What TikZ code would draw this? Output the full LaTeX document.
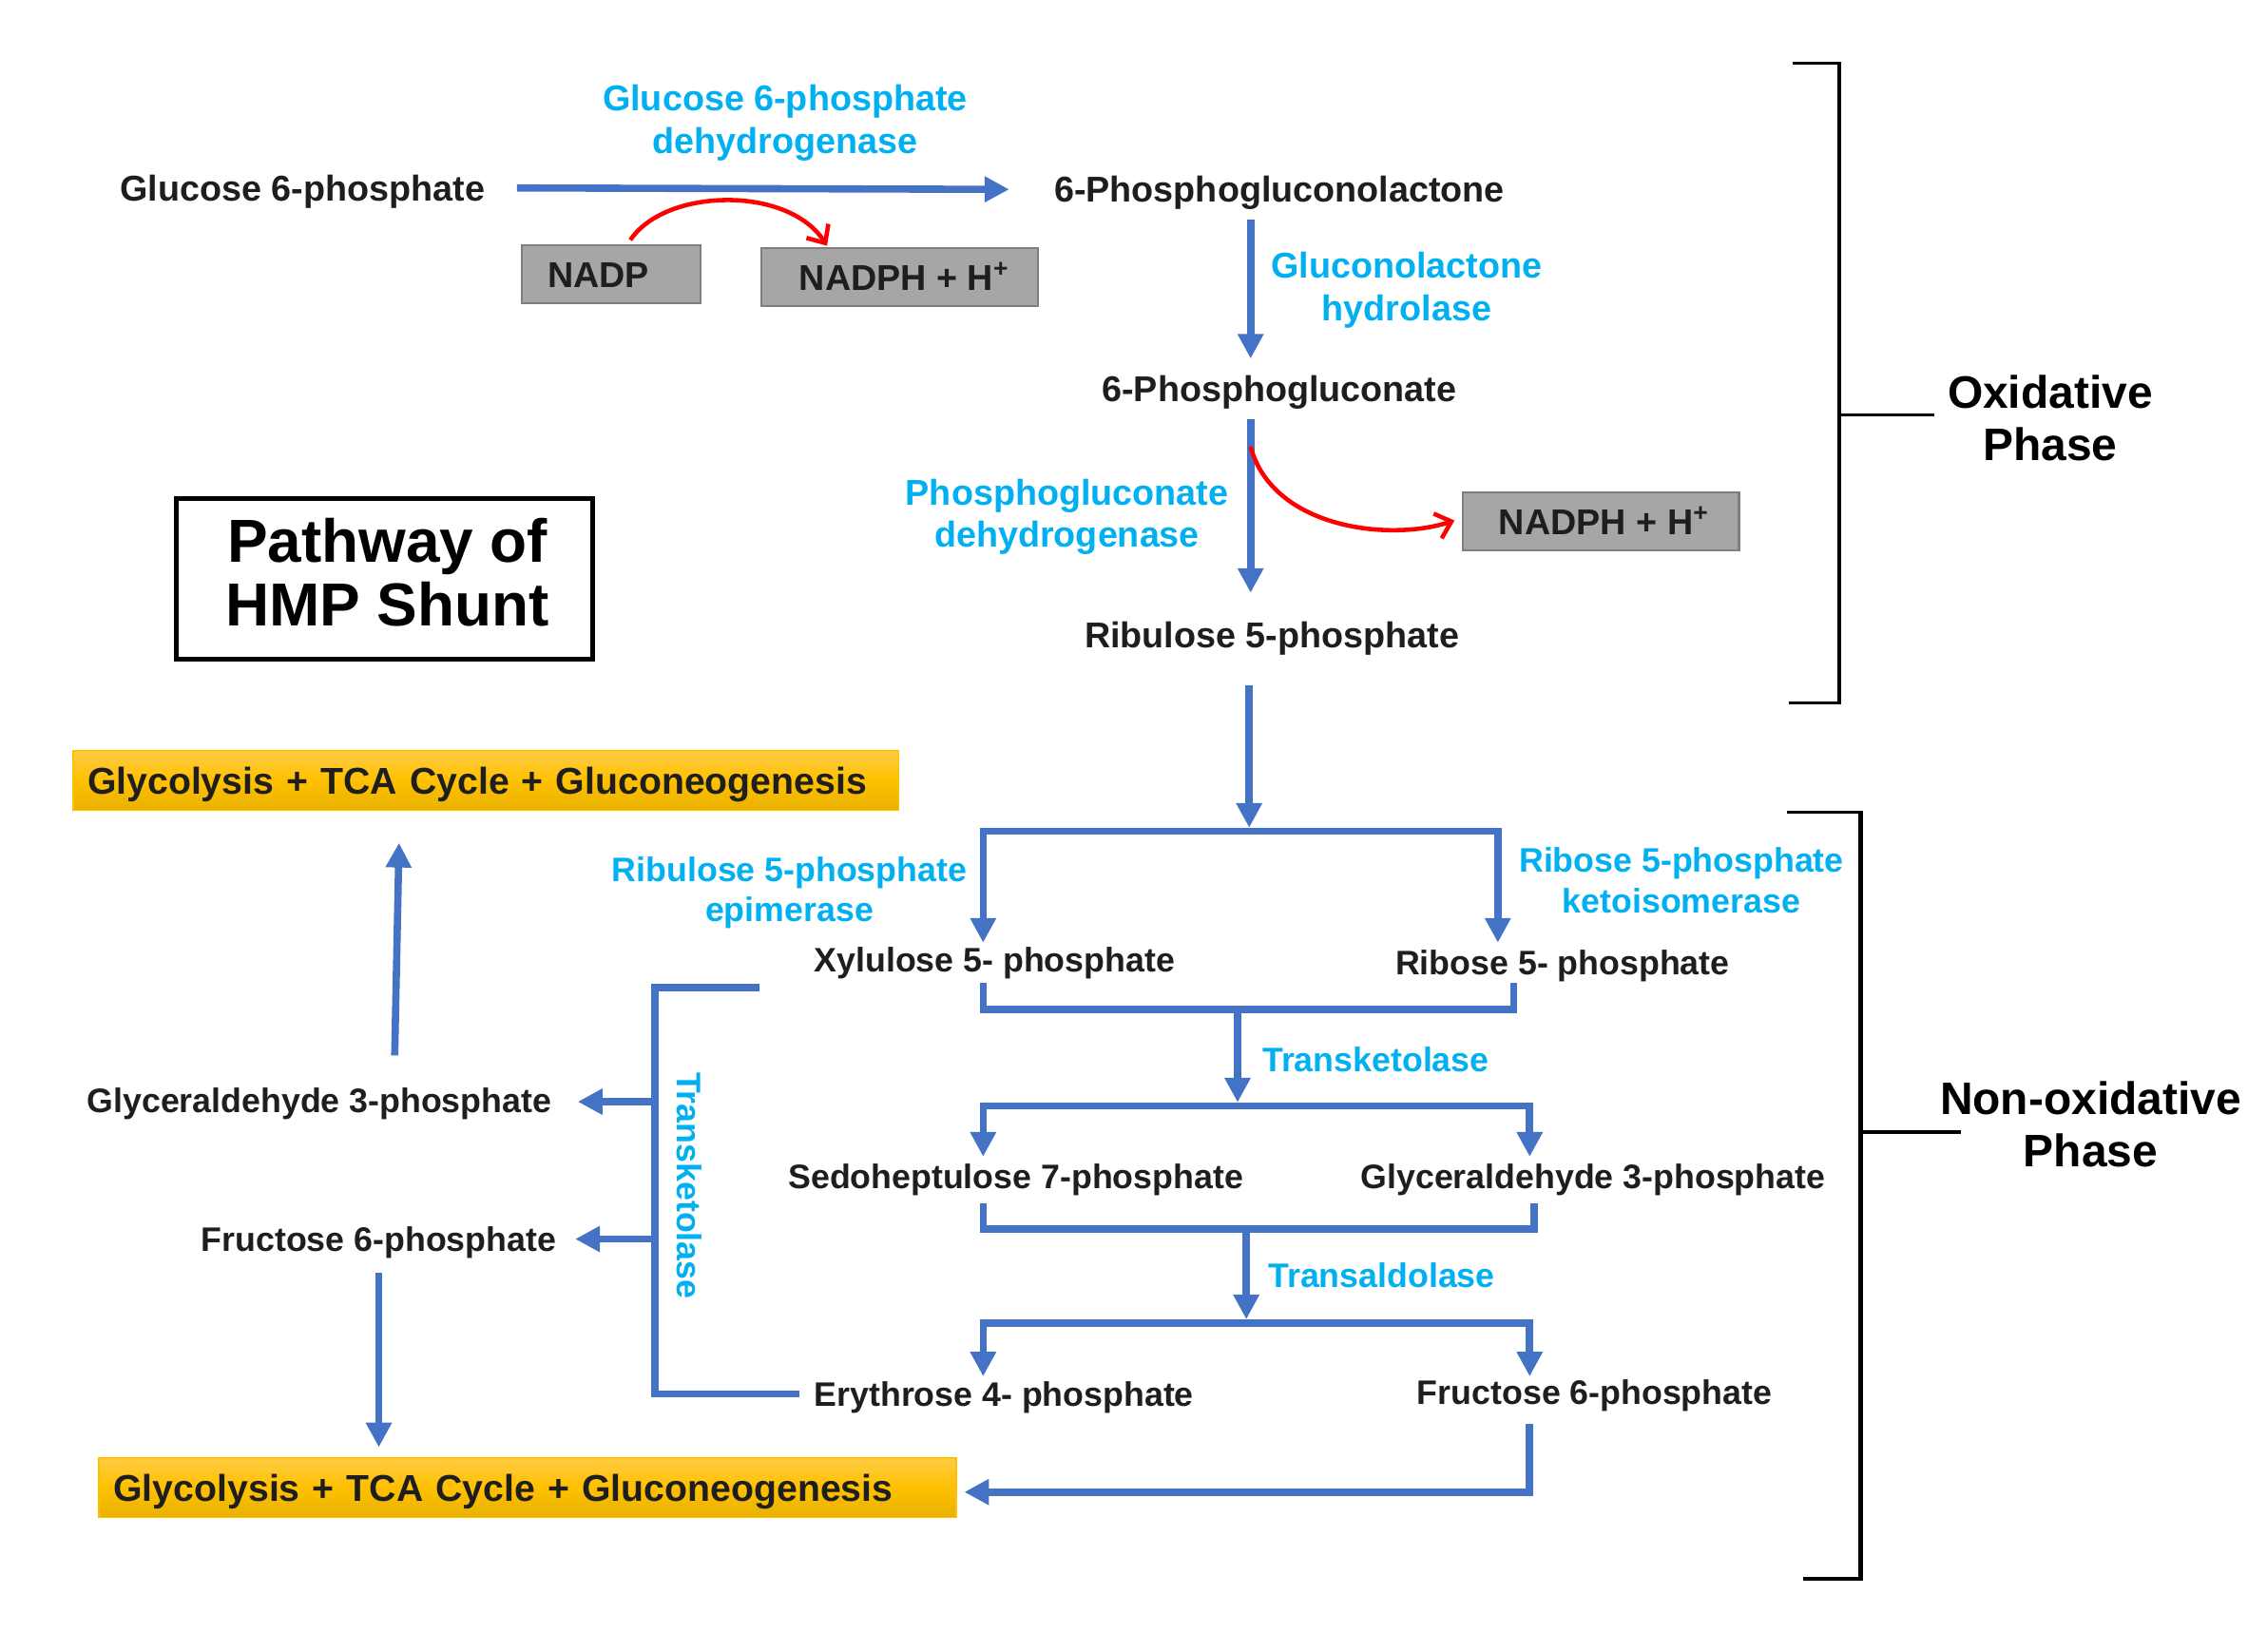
\documentclass[tikz,border=0pt]{standalone}
\usepackage{fontspec}
\setmainfont{Liberation Sans}
\usetikzlibrary{arrows.meta}
\definecolor{pblue}{HTML}{4472C4}
\definecolor{pcyan}{HTML}{00B0F0}
\definecolor{ptext}{HTML}{1E1E1E}
\definecolor{pgrayfill}{HTML}{A6A6A6}
\definecolor{pgrayline}{HTML}{7F7F7F}
\definecolor{porTop}{RGB}{255,204,68}
\definecolor{porMid}{RGB}{255,192,0}
\definecolor{porBot}{RGB}{232,178,0}
\tikzset{
 fa/.style={font=\fontsize{24.8pt}{29.5pt}\selectfont\bfseries},
 fb/.style={font=\fontsize{23.5pt}{28pt}\selectfont\bfseries},
 lbl/.style={fa, text=ptext, inner sep=0pt, text height=17.8pt, text depth=0pt, anchor=west},
 lblb/.style={fb, text=ptext, inner sep=0pt, text height=16.8pt, text depth=0pt, anchor=west},
 enz/.style={fa, text=pcyan, inner sep=0pt, align=center},
 enzb/.style={fb, text=pcyan, inner sep=0pt, align=center},
 enzl/.style={fb, text=pcyan, inner sep=0pt, text height=16.8pt, text depth=0pt, anchor=west},
 flow/.style={draw=pblue, line width=5pt, -{Triangle[width=17pt,length=17pt]}},
 flowtwo/.style={draw=pblue, line width=5pt, {Triangle[width=17pt,length=17pt]}-{Triangle[width=17pt,length=17pt]}},
 flowline/.style={draw=pblue, line width=5pt},
 redarrow/.style={draw=red, line width=3pt, -{Straight Barb[length=10pt,width=18pt]}},
 graybox/.style={fill=pgrayfill, draw=pgrayline, line width=1.5pt, fa, text=ptext, minimum height=40pt, inner sep=0pt, text height=17.8pt, text depth=0pt},
 orangebox/.style={top color=porTop, bottom color=porBot, middle color=porMid, draw=porMid, line width=1pt, font=\fontsize{25.8pt}{30pt}\selectfont\bfseries, text=ptext, minimum height=41pt, inner ysep=0pt, inner xsep=10pt, text height=18.5pt, text depth=0pt, anchor=west, align=left},
 brace/.style={draw=black, line width=3pt},
 tick/.style={draw=black, line width=2pt},
 phase/.style={font=\fontsize{31.5pt}{36pt}\selectfont\bfseries, text=black, align=center, inner sep=0pt},
 titlebox/.style={draw=black, line width=3.5pt, minimum width=288pt, minimum height=111pt, inner sep=0pt},
 titletxt/.style={font=\fontsize{42pt}{44pt}\selectfont\bfseries, text=black, align=center, inner sep=0pt},
}
\begin{document}
\begin{tikzpicture}[x=1pt,y=-1pt]
\useasboundingbox (0,0) rectangle (1568,1142);

% ---------- Oxidative phase ----------
\node[lbl] (g6p) at (83,130) {Glucose 6-phosphate};
\node[enz] (g6pd) at (543,85) {Glucose 6-phosphate\\dehydrogenase};
\node[lbl] (pgl) at (729,131) {6-Phosphogluconolactone};
\node[graybox, anchor=north west, text width=88pt, align=left, inner xsep=18pt] (nadp) at (360,169) {NADP};
\node[graybox, anchor=north west, minimum width=191pt, xshift=0pt] (nadphA) at (526,171) {\hspace*{6pt}NADPH + H\textsuperscript{+}};
\node[enz] (glh) at (973,200.5) {Gluconolactone\\hydrolase};
\node[lbl] (pg) at (762,269) {6-Phosphogluconate};
\node[enz] (pgd) at (738,357.5) {Phosphogluconate\\dehydrogenase};
\node[graybox, anchor=north west, minimum width=191pt] (nadphB) at (1011,340) {\hspace*{4pt}NADPH + H\textsuperscript{+}};
\node[lbl] (ru5p) at (750,439) {Ribulose 5-phosphate};

\draw[flow] ([xshift=22pt]g6p.east) -- ([xshift=-31pt]pgl.west);
\coordinate (vAs) at (865,152);
\coordinate (vAe) at (865,248);
\draw[flow] (vAs) -- (vAe);
\coordinate (vBs) at (865,290);
\coordinate (vBe) at (865,410);
\draw[flow] (vBs) -- (vBe);

\coordinate (rAs) at (436,166);
\coordinate (rAe) at (572,170);
\draw[redarrow] (rAs) .. controls (460,130) and (545,128) .. (rAe);
\coordinate (rBs) at (865,309);
\coordinate (rBe) at (1006,360);
\draw[redarrow] (rBs) .. controls (880,365) and (960,375) .. (rBe);

% oxidative bracket
\coordinate (oxT) at (1272,44);
\coordinate (oxB) at (1272,486);
\coordinate (oxM) at (1272,287);
\draw[brace] (oxT) -- (oxB);
\draw[tick] (1240,44) -- ([xshift=1.5pt]oxT);
\draw[tick] (1237,486) -- ([xshift=1.5pt]oxB);
\draw[tick] (oxM) -- (1338,287);
\node[phase] (oxlab) at (1418,289) {Oxidative\\Phase};

% title
\node[titlebox] (title) at (266,400.5) {};
\node[titletxt] (titletext) at (268,396) {Pathway of\\HMP Shunt};

% ---------- Non-oxidative phase ----------
\node[orangebox, text width=551pt] (glyA) at (50,540) {Glycolysis + TCA Cycle + Gluconeogenesis};
\node[orangebox, text width=573pt] (glyB) at (68,1029) {Glycolysis + TCA Cycle + Gluconeogenesis};

\node[enzb] (rpe) at (546,617.5) {Ribulose 5-phosphate\\epimerase};
\node[enzb] (rpi) at (1163,609) {Ribose 5-phosphate\\ketoisomerase};
\node[lblb] (xu5p) at (563,664) {Xylulose 5- phosphate};
\node[lblb] (r5p) at (965,666) {Ribose 5- phosphate};
\node[enzl] (tkA) at (873,733) {Transketolase};
\node[lblb] (s7p) at (545,814) {Sedoheptulose 7-phosphate};
\node[lblb] (ga3p) at (941,814) {Glyceraldehyde 3-phosphate};
\node[enzl] (ta) at (877,882) {Transaldolase};
\node[lblb] (e4p) at (563,964) {Erythrose 4- phosphate};
\node[lblb] (f6p) at (980,963) {Fructose 6-phosphate};
\node[lblb] (ga3pL) at (60,761) {Glyceraldehyde 3-phosphate};
\node[lblb] (f6pL) at (139,857) {Fructose 6-phosphate};
\node[enzb, rotate=-90] (tkB) at (477,820) {Transketolase};

% ribulose -> split
\coordinate (sAtop) at (864,474);
\coordinate (sAbar) at (864,572.5);
\draw[flow] (sAtop) -- (sAbar);
\coordinate (bAL) at (680,575);
\coordinate (bAR) at (1036,575);
\draw[flowtwo] (680,652) -- (bAL) -- (bAR) -- (1036,652);
% xylulose/ribose bracket
\coordinate (cAL) at (680,698);
\coordinate (cAR) at (1047,698);
\draw[flowline] (680,680) -- (cAL) -- (cAR) -- (1047,680);
\coordinate (tkAs) at (856,701);
\coordinate (tkAe) at (856,762.5);
\draw[flow] (tkAs) -- (tkAe);
\coordinate (bBL) at (680,765);
\coordinate (bBR) at (1058,765);
\draw[flowtwo] (680,800) -- (bBL) -- (bBR) -- (1058,800);
% sedoheptulose/GA3P bracket
\coordinate (cBL) at (680,850);
\coordinate (cBR) at (1061,850);
\draw[flowline] (680,832) -- (cBL) -- (cBR) -- (1061,832);
\coordinate (taS) at (862,853);
\coordinate (taE) at (862,912.5);
\draw[flow] (taS) -- (taE);
\coordinate (bCL) at (680,915);
\coordinate (bCR) at (1058,915);
\draw[flowtwo] (680,952) -- (bCL) -- (bCR) -- (1058,952);
% fructose 6-P -> glycolysis
\coordinate (fA) at (1058,985);
\coordinate (fB) at (1058,1032);
\draw[flow] (fA) -- (fB) -- ([xshift=5pt]glyB.east |- fB);

% transketolase side bracket
\coordinate (kT) at (453,683);
\coordinate (kB) at (453,964);
\coordinate (kG) at (453,762);
\coordinate (kF) at (453,857);
\draw[flowline] (525,683) -- (kT) -- (kB) -- (553,964);
\draw[flow] (kG) -- ([xshift=18pt]ga3pL.east |- kG);
\draw[flow] (kF) -- ([xshift=13pt]f6pL.east |- kF);

% left arrows
\coordinate (uS) at (273,730);
\coordinate (uE) at (276,583);
\draw[flow] (uS) -- (uE);
\coordinate (dS) at (262,880);
\coordinate (dE) at (262,1001);
\draw[flow] (dS) -- (dE);

% non-oxidative bracket
\coordinate (nxT) at (1287,562);
\coordinate (nxB) at (1287,1092);
\coordinate (nxM) at (1287,783);
\draw[brace] (nxT) -- (nxB);
\draw[tick] (1236,562) -- ([xshift=1.5pt]nxT);
\draw[tick] (1247,1092) -- ([xshift=1.5pt]nxB);
\draw[tick] (nxM) -- (1356,783);
\node[phase] (nxlab) at (1446,777.5) {Non-oxidative\\Phase};
\end{tikzpicture}
\end{document}
